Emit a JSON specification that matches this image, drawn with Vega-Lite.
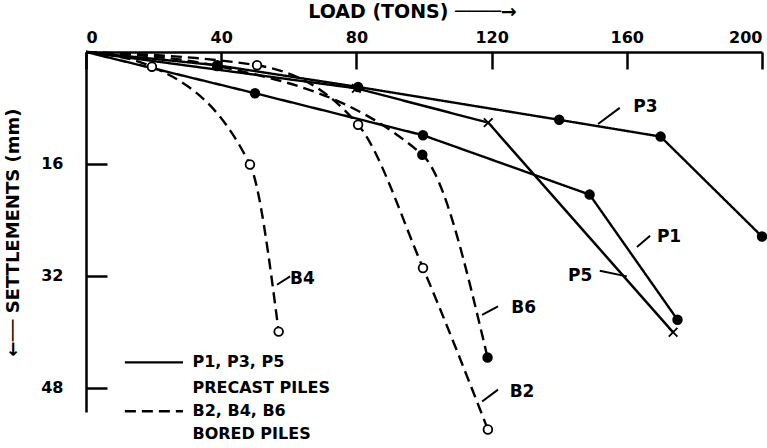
{
  "$schema": "https://vega.github.io/schema/vega-lite/v6.json",
  "width": 676,
  "height": 360,
  "autosize": {"type": "none"},
  "padding": {"left": 86, "top": 52, "right": 5, "bottom": 36},
  "background": "white",
  "config": {
    "font": "DejaVu Sans",
    "view": {"stroke": null},
    "axis": {"domainColor": "black", "tickColor": "black", "labelColor": "black", "titleColor": "black", "grid": false, "domainWidth": 2.5, "tickWidth": 2.5, "labelFont": "DejaVu Sans", "labelFontWeight": "bold", "labelFontSize": 16, "titleFont": "DejaVu Sans", "titleFontWeight": "bold", "titleFontSize": 18}
  },
  "datasets": {
    "curves": [
      {"pile": "P1", "kind": "precast", "load": 0, "settlement": 0},
      {"pile": "P1", "kind": "precast", "load": 50, "settlement": 5.9},
      {"pile": "P1", "kind": "precast", "load": 99.7, "settlement": 11.9},
      {"pile": "P1", "kind": "precast", "load": 149, "settlement": 20.4},
      {"pile": "P1", "kind": "precast", "load": 175, "settlement": 38.3},
      {"pile": "P3", "kind": "precast", "load": 0, "settlement": 0},
      {"pile": "P3", "kind": "precast", "load": 38.8, "settlement": 1.9},
      {"pile": "P3", "kind": "precast", "load": 80.5, "settlement": 5.0},
      {"pile": "P3", "kind": "precast", "load": 140, "settlement": 9.7},
      {"pile": "P3", "kind": "precast", "load": 170, "settlement": 12.1},
      {"pile": "P3", "kind": "precast", "load": 200, "settlement": 26.4},
      {"pile": "P5", "kind": "precast", "load": 0, "settlement": 0},
      {"pile": "P5", "kind": "precast", "load": 80, "settlement": 5.2},
      {"pile": "P5", "kind": "precast", "load": 119, "settlement": 10.1},
      {"pile": "P5", "kind": "precast", "load": 173.7, "settlement": 40.1},
      {"pile": "B2", "kind": "bored", "load": 0, "settlement": 0},
      {"pile": "B2", "kind": "bored", "load": 50.6, "settlement": 1.9},
      {"pile": "B2", "kind": "bored", "load": 80.5, "settlement": 10.4},
      {"pile": "B2", "kind": "bored", "load": 99.7, "settlement": 30.9},
      {"pile": "B2", "kind": "bored", "load": 118.9, "settlement": 54},
      {"pile": "B4", "kind": "bored", "load": 0, "settlement": 0},
      {"pile": "B4", "kind": "bored", "load": 19.5, "settlement": 2.1},
      {"pile": "B4", "kind": "bored", "load": 48.5, "settlement": 16.1},
      {"pile": "B4", "kind": "bored", "load": 57, "settlement": 40},
      {"pile": "B6", "kind": "bored", "load": 0, "settlement": 0},
      {"pile": "B6", "kind": "bored", "load": 38.8, "settlement": 2.0},
      {"pile": "B6", "kind": "bored", "load": 99.5, "settlement": 14.7},
      {"pile": "B6", "kind": "bored", "load": 118.8, "settlement": 43.7}
    ],
    "leaders": [
      {"pile": "P3", "load": 151.5, "settlement": 10.3, "load2": 157.9, "settlement2": 8.0},
      {"pile": "P1", "load": 163, "settlement": 27.9, "load2": 166.9, "settlement2": 26.3},
      {"pile": "P5", "load": 152, "settlement": 31.3, "load2": 160, "settlement2": 32.1},
      {"pile": "B6", "load": 117.2, "settlement": 37.6, "load2": 121.9, "settlement2": 36.4},
      {"pile": "B2", "load": 117.2, "settlement": 50, "load2": 121.9, "settlement2": 48.3},
      {"pile": "B4", "load": 56.5, "settlement": 33.3, "load2": 60.4, "settlement2": 32.1}
    ],
    "labels": [
      {"pile": "P3", "load": 165.5, "settlement": 7.9},
      {"pile": "P1", "load": 172.5, "settlement": 26.5},
      {"pile": "P5", "load": 146.2, "settlement": 32.1},
      {"pile": "B6", "load": 129.5, "settlement": 36.6},
      {"pile": "B2", "load": 129, "settlement": 48.6},
      {"pile": "B4", "load": 64, "settlement": 32.5}
    ],
    "key": [
      {"kind": "precast", "load": 11.5, "load2": 28.7, "settlement": 44.4},
      {"kind": "bored", "load": 11.5, "load2": 28.7, "settlement": 51.4}
    ],
    "keyText": [
      {"text": "P1, P3, P5", "load": 31.5, "settlement": 44.4},
      {"text": "PRECAST PILES", "load": 31.5, "settlement": 48.0},
      {"text": "B2, B4, B6", "load": 31.5, "settlement": 51.4},
      {"text": "BORED PILES", "load": 31.5, "settlement": 54.7}
    ]
  },
  "encoding": {
    "x": {
      "field": "load", "type": "quantitative",
      "scale": {"domain": [0, 200], "nice": false, "zero": false},
      "axis": {"orient": "top", "values": [0, 40, 80, 120, 160, 200], "tickSize": -17, "labelPadding": 24, "title": "LOAD  (TONS)  ────→", "titleFontSize": 19, "titlePadding": 8, "titleX": 326}
    },
    "y": {
      "field": "settlement", "type": "quantitative",
      "scale": {"domain": [0, 51.5], "nice": false, "zero": false, "reverse": true},
      "axis": {"orient": "left", "values": [16, 32, 48], "tickSize": -21, "labelPadding": 44, "title": "←── SETTLEMENTS (mm)", "titlePadding": 18}
    }
  },
  "layer": [
    {
      "data": {"name": "curves"},
      "transform": [{"filter": "datum.kind == 'precast'"}],
      "mark": {"type": "line", "color": "black", "strokeWidth": 2.4, "interpolate": "linear"},
      "encoding": {
        "detail": {"field": "pile"},
        "strokeDash": {
          "field": "kind", "type": "nominal", "legend": null,
          "scale": {"domain": ["precast", "bored"], "range": [[1, 0], [11, 6]]}
        }
      }
    },
    {
      "data": {"name": "curves"},
      "transform": [{"filter": "datum.kind == 'bored'"}],
      "mark": {"type": "line", "color": "black", "strokeWidth": 2.4, "interpolate": "monotone"},
      "encoding": {
        "detail": {"field": "pile"},
        "strokeDash": {"field": "kind", "type": "nominal", "legend": null}
      }
    },
    {
      "data": {"name": "curves"},
      "transform": [{"filter": "datum.load > 0"}],
      "mark": {"type": "point", "stroke": "black", "strokeWidth": 1.8, "size": 75, "opacity": 1},
      "encoding": {
        "shape": {
          "field": "pile", "type": "nominal", "legend": null,
          "scale": {"domain": ["P1", "P3", "P5", "B2", "B4", "B6"], "range": ["circle", "circle", "M-1,-1L1,1M1,-1L-1,1", "circle", "circle", "circle"]}
        },
        "fill": {
          "field": "pile", "type": "nominal", "legend": null,
          "scale": {"domain": ["P1", "P3", "P5", "B2", "B4", "B6"], "range": ["black", "black", "black", "white", "white", "black"]}
        }
      }
    },
    {
      "data": {"name": "leaders"},
      "mark": {"type": "rule", "color": "black", "strokeWidth": 2},
      "encoding": {
        "x2": {"field": "load2"},
        "y2": {"field": "settlement2"}
      }
    },
    {
      "data": {"name": "labels"},
      "mark": {"type": "text", "font": "DejaVu Sans", "fontWeight": "bold", "fontSize": 17, "color": "black", "align": "center", "baseline": "middle"},
      "encoding": {"text": {"field": "pile"}}
    },
    {
      "data": {"name": "key"},
      "mark": {"type": "rule", "color": "black", "strokeWidth": 2.4},
      "encoding": {
        "x2": {"field": "load2"},
        "strokeDash": {"field": "kind", "type": "nominal", "legend": null}
      }
    },
    {
      "data": {"name": "keyText"},
      "mark": {"type": "text", "font": "DejaVu Sans", "fontWeight": "bold", "fontSize": 16, "color": "black", "align": "left", "baseline": "middle"},
      "encoding": {"text": {"field": "text"}}
    }
  ]
}
